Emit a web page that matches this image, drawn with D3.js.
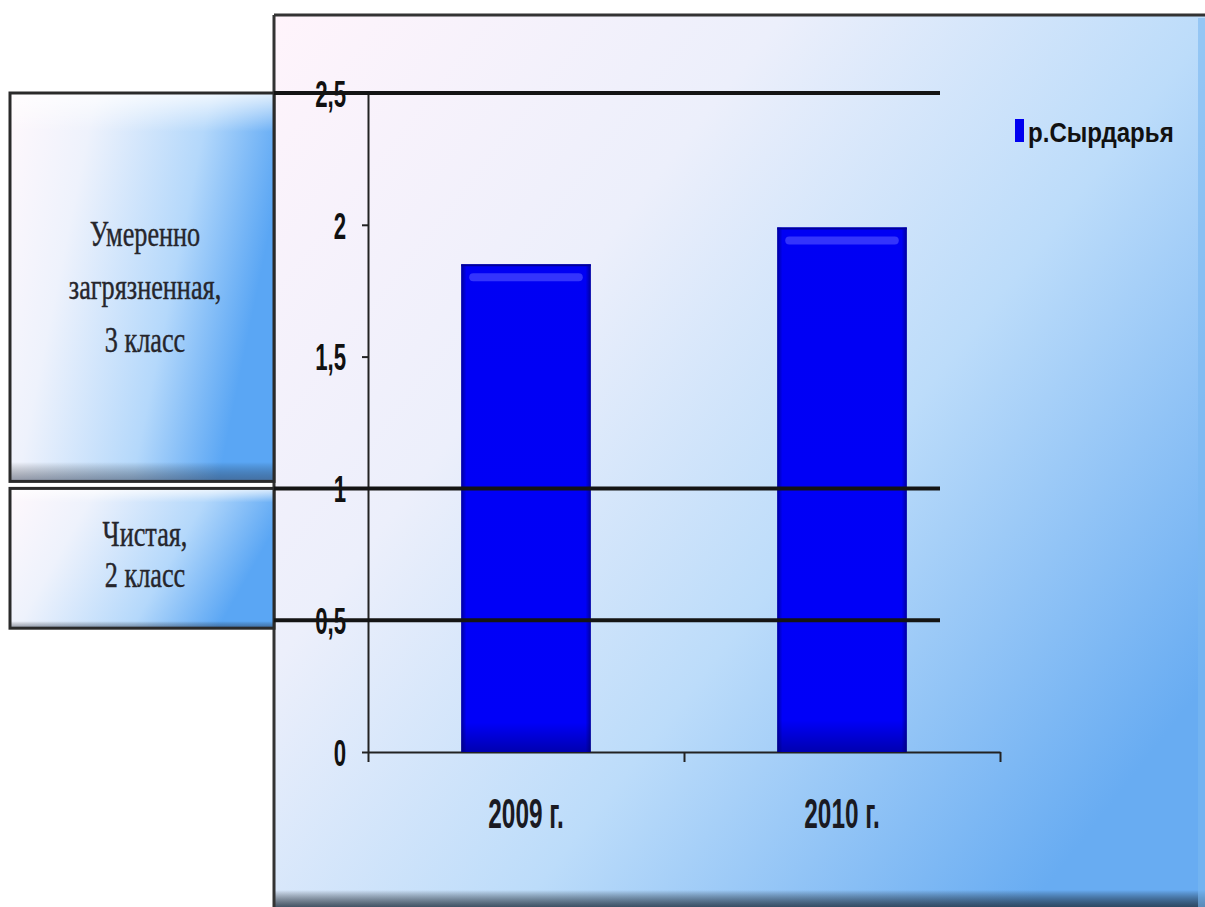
<!DOCTYPE html>
<html>
<head>
<meta charset="utf-8">
<script src="https://cdn.jsdelivr.net/npm/d3@7/dist/d3.min.js"></script>
<style>
  html, body { margin: 0; padding: 0; background: #ffffff; }
  svg { display: block; }
</style>
</head>
<body>
<svg id="chart" width="1205" height="907"></svg>
<script>
// Water pollution index of the Syr Darya river by year
const categories = ["2009 г.", "2010 г."];
const seriesName = "р.Сырдарья";
const values = [1.85, 1.99];
const yTicks = [0, 0.5, 1, 1.5, 2, 2.5];
// Water quality class boundaries (horizontal reference lines)
const classBounds = [2.5, 1, 0.5];
// Class bands shown beside the axis
const classBands = [
  { top: 2.5, bottom: 1, lines: ["Умеренно", "загрязненная,", "3 класс"] },
  { top: 1, bottom: 0.5, lines: ["Чистая,", "2 класс"] }
];

const svg = d3.select("#chart");
const defs = svg.append("defs");

// Panel background gradient: pinkish white to sky blue
const bg = defs.append("linearGradient").attr("id", "bgGrad")
  .attr("x1", "0").attr("y1", "0").attr("x2", "1").attr("y2", "0.75");
bg.append("stop").attr("offset", "0").attr("stop-color", "#fff4fb");
bg.append("stop").attr("offset", "0.35").attr("stop-color", "#eceffb");
bg.append("stop").attr("offset", "0.65").attr("stop-color", "#bcdcfa");
bg.append("stop").attr("offset", "1").attr("stop-color", "#68acf2");

const bottomShade = defs.append("linearGradient").attr("id", "bottomShade")
  .attr("x1", "0").attr("y1", "0").attr("x2", "0").attr("y2", "1");
bottomShade.append("stop").attr("offset", "0").attr("stop-color", "#000").attr("stop-opacity", 0);
bottomShade.append("stop").attr("offset", "1").attr("stop-color", "#203040").attr("stop-opacity", 0.8);

// Box gradient for class labels
const boxGrad = defs.append("linearGradient").attr("id", "boxGrad")
  .attr("x1", "0").attr("y1", "0").attr("x2", "1").attr("y2", "0.3");
boxGrad.append("stop").attr("offset", "0").attr("stop-color", "#fff8fc");
boxGrad.append("stop").attr("offset", "0.3").attr("stop-color", "#eef2fc");
boxGrad.append("stop").attr("offset", "0.7").attr("stop-color", "#b4d8fb");
boxGrad.append("stop").attr("offset", "1").attr("stop-color", "#5aa6f4");

const boxShade = defs.append("linearGradient").attr("id", "boxShade")
  .attr("x1", "0").attr("y1", "0").attr("x2", "0").attr("y2", "1");
boxShade.append("stop").attr("offset", "0").attr("stop-color", "#ffffff").attr("stop-opacity", 0.8);
boxShade.append("stop").attr("offset", "0.1").attr("stop-color", "#ffffff").attr("stop-opacity", 0);
boxShade.append("stop").attr("offset", "0.95").attr("stop-color", "#000").attr("stop-opacity", 0);
boxShade.append("stop").attr("offset", "1").attr("stop-color", "#303a50").attr("stop-opacity", 0.5);

// Bar gradients (bevelled look)
const barGrad = defs.append("linearGradient").attr("id", "barGrad")
  .attr("x1", "0").attr("y1", "0").attr("x2", "0").attr("y2", "1");
barGrad.append("stop").attr("offset", "0").attr("stop-color", "#0000f4");
barGrad.append("stop").attr("offset", "0.94").attr("stop-color", "#0000f8");
barGrad.append("stop").attr("offset", "1").attr("stop-color", "#0000b0");
const barSide = defs.append("linearGradient").attr("id", "barSide")
  .attr("x1", "0").attr("y1", "0").attr("x2", "1").attr("y2", "0");
barSide.append("stop").attr("offset", "0").attr("stop-color", "#000060").attr("stop-opacity", 0.6);
barSide.append("stop").attr("offset", "0.04").attr("stop-color", "#000060").attr("stop-opacity", 0);
barSide.append("stop").attr("offset", "0.96").attr("stop-color", "#000060").attr("stop-opacity", 0);
barSide.append("stop").attr("offset", "1").attr("stop-color", "#000060").attr("stop-opacity", 0.6);

// Main panel
const panel = { x: 274, y: 15, w: 931, h: 892 };
svg.append("rect").attr("x", panel.x).attr("y", panel.y)
  .attr("width", panel.w).attr("height", panel.h).attr("fill", "url(#bgGrad)");
svg.append("rect").attr("x", panel.x).attr("y", 890)
  .attr("width", panel.w).attr("height", 17).attr("fill", "url(#bottomShade)");
svg.append("rect").attr("x", 1198).attr("y", panel.y + 3)
  .attr("width", 7).attr("height", panel.h).attr("fill", "#7ab8f0").attr("opacity", 0.6);
svg.append("line").attr("x1", panel.x).attr("x2", 1205)
  .attr("y1", panel.y).attr("y2", panel.y).attr("stroke", "#333").attr("stroke-width", 3);
svg.append("line").attr("x1", panel.x).attr("x2", panel.x)
  .attr("y1", panel.y).attr("y2", 907).attr("stroke", "#333").attr("stroke-width", 3);

// Scales
const plot = { left: 368, right: 1000, top: 93, bottom: 752 };
const y = d3.scaleLinear().domain([0, 2.5]).range([plot.bottom, plot.top]);
const x = d3.scaleBand().domain(categories).range([plot.left, plot.right])
  .paddingInner(0.59).paddingOuter(0.295);
const xEdges = d3.scaleLinear().domain([0, categories.length]).range([plot.left, plot.right]);

const narrow = "'Liberation Sans', Arial, sans-serif";

// Class label boxes on the left
const boxX = 10, boxW = panel.x - boxX;
const bandG = svg.append("g");
classBands.forEach((b, bi) => {
  const top = y(b.top), bot = y(b.bottom) + (bi === 1 ? 8 : -7);
  const g = bandG.append("g");
  g.append("rect").attr("x", boxX).attr("y", top).attr("width", boxW).attr("height", bot - top)
    .attr("fill", "url(#boxGrad)");
  g.append("rect").attr("x", boxX).attr("y", top).attr("width", boxW).attr("height", bot - top)
    .attr("fill", "url(#boxShade)");
  g.append("rect").attr("x", boxX).attr("y", top).attr("width", boxW).attr("height", bot - top)
    .attr("fill", "none").attr("stroke", "#2a2a2a").attr("stroke-width", 3);
  const cx = boxX + boxW / 2 + 3;
  const cy = (top + bot) / 2;
  const lh = bi === 0 ? 53 : 41;
  const shift = bi === 0 ? 12 : 8;
  b.lines.forEach((t, i) => {
    const ty = cy + (i - (b.lines.length - 1) / 2) * lh + shift;
    g.append("text")
      .attr("transform", `translate(${cx},${ty}) scale(0.75,1)`)
      .attr("text-anchor", "middle")
      .attr("font-family", "'Liberation Serif', 'DejaVu Serif', serif")
      .attr("font-size", 35)
      .attr("fill", "#26262c")
      .attr("stroke", "#26262c").attr("stroke-width", 0.4)
      .text(t);
  });
});

// Y axis
const yAxis = svg.append("g").attr("transform", `translate(${plot.left},0)`)
  .call(d3.axisLeft(y).tickValues(yTicks).tickSize(6).tickSizeOuter(0)
    .tickFormat(d => String(d).replace(".", ",")));
yAxis.select(".domain").attr("stroke", "#222").attr("stroke-width", 2);
yAxis.selectAll(".tick line").attr("stroke", "#222").attr("stroke-width", 2);
yAxis.selectAll(".tick text")
  .attr("font-family", narrow)
  .attr("font-weight", "bold").attr("font-size", 37).attr("fill", "#111")
  .attr("x", null).attr("dy", "0.36em")
  .attr("transform", "translate(-22,0) scale(0.6,1)");

// X axis with ticks at category boundaries
const xAxis = svg.append("g").attr("transform", `translate(0,${plot.bottom})`)
  .call(d3.axisBottom(xEdges).tickValues(d3.range(categories.length + 1))
    .tickSize(10).tickSizeOuter(0).tickFormat(""));
xAxis.select(".domain").attr("stroke", "#222").attr("stroke-width", 2);
xAxis.selectAll(".tick line").attr("stroke", "#222").attr("stroke-width", 2);

svg.append("g").selectAll("text").data(categories).join("text")
  .attr("transform", d => `translate(${x(d) + x.bandwidth() / 2},828) scale(0.58,1)`)
  .attr("text-anchor", "middle")
  .attr("font-family", narrow)
  .attr("font-weight", "bold").attr("font-size", 42).attr("fill", "#1a1a22")
  .text(d => d);

// Bars
const bars = svg.append("g").selectAll("g").data(values).join("g");
bars.append("rect")
  .attr("x", (d, i) => x(categories[i]))
  .attr("y", d => y(d))
  .attr("width", x.bandwidth())
  .attr("height", d => y(0) - y(d))
  .attr("fill", "url(#barGrad)");
bars.append("rect")
  .attr("x", (d, i) => x(categories[i]))
  .attr("y", d => y(d))
  .attr("width", x.bandwidth())
  .attr("height", d => y(0) - y(d))
  .attr("fill", "url(#barSide)");
bars.append("rect")
  .attr("x", (d, i) => x(categories[i]) + 8)
  .attr("y", d => y(d) + 9)
  .attr("width", x.bandwidth() - 16)
  .attr("height", 8)
  .attr("rx", 4)
  .attr("fill", "#4a4aff").attr("opacity", 0.7);
bars.append("line")
  .attr("x1", (d, i) => x(categories[i]))
  .attr("x2", (d, i) => x(categories[i]) + x.bandwidth())
  .attr("y1", d => y(d) + 1).attr("y2", d => y(d) + 1)
  .attr("stroke", "#00009a").attr("stroke-width", 2);

// Class boundary lines
svg.append("g").selectAll("line").data(classBounds).join("line")
  .attr("x1", panel.x).attr("x2", 940)
  .attr("y1", d => y(d)).attr("y2", d => y(d))
  .attr("stroke", "#141414").attr("stroke-width", 4);

// Legend
const legend = svg.append("g").attr("transform", "translate(1015,119)");
legend.append("rect").attr("width", 9).attr("height", 23).attr("fill", "#0000f0");
legend.append("text").attr("transform", "translate(13,23) scale(0.86,1)")
  .attr("font-family", narrow)
  .attr("font-weight", "bold").attr("font-size", 28).attr("fill", "#111")
  .text(seriesName);
</script>
</body>
</html>
